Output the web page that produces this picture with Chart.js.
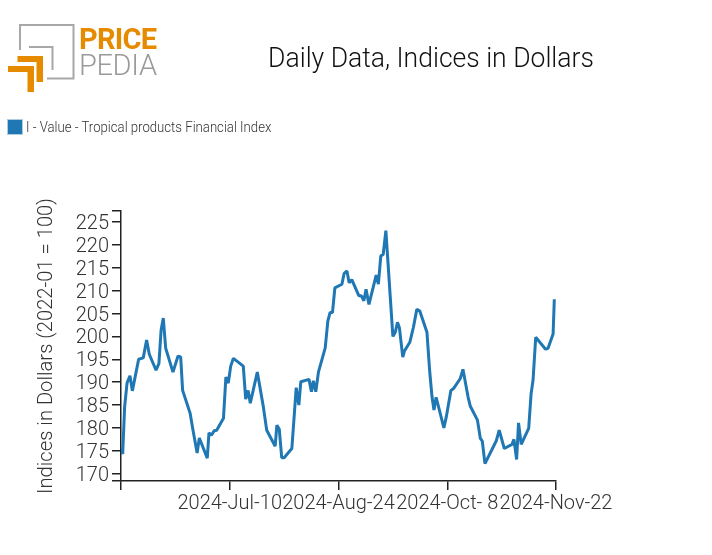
<!DOCTYPE html>
<html lang="en">
<head>
    <meta charset="UTF-8">
    <title>Daily Data, Indices in Dollars</title>
    <script src="https://cdn.jsdelivr.net/npm/chart.js"></script>
    <style>
        body {
            margin: 0;
            background: white;
            font-family: Roboto, sans-serif;
            font-weight: 300;
        }
        #wrap {
            position: relative;
            width: 712px;
            height: 555px;
        }
        #logo {
            position: absolute;
            left: 0;
            top: 0;
        }
        #title {
            position: absolute;
            left: 168px;
            width: 526px;
            top: 41px;
            text-align: center;
            font-size: 27px;
            line-height: 34px;
            color: #111;
            transform: scaleX(0.982);
        }
        #legendBox {
            position: absolute;
            left: 7px;
            top: 119px;
            width: 14px;
            height: 14px;
            background: #1f77b4;
            border: 1px solid #aecde3;
        }
        #legendText {
            position: absolute;
            left: 26px;
            top: 119px;
            font-size: 14px;
            line-height: 16px;
            color: #333;
            white-space: nowrap;
            transform-origin: left center;
            transform: scaleX(0.94);
        }
        canvas {
            position: absolute;
            left: 0;
            top: 0;
        }
    </style>
</head>
<body>
<div id="wrap">
    <canvas id="chart" width="712" height="555"></canvas>
    <svg id="logo" width="170" height="100">
        <path d="M20 50V25H73.500V78.500H47" fill="none" stroke="#a8a8a8" stroke-width="2"/>
        <path d="M29 47H52.500V70" fill="none" stroke="#a8a8a8" stroke-width="2"/>
        <path d="M8 66H34V92H27.500V72H8Z" fill="#e68a00"/>
        <path d="M17.500 56H43V82H36.500V62H17.500Z" fill="#e68a00"/>
        <text x="79" y="49" font-size="29" font-weight="700" fill="#e68a00" textLength="78">PRICE</text>
        <text x="79" y="75" font-size="29" font-weight="300" fill="#9a9a9a" textLength="78">PEDIA</text>
    </svg>
    <div id="title">Daily Data, Indices in Dollars</div>
    <div id="legendBox"></div>
    <div id="legendText">I - Value - Tropical products Financial Index</div>
</div>
<script>
    const seriesName = "I - Value - Tropical products Financial Index";

    // days since 2024-May-26
    const days = [0, 0.7, 1.5, 2.5, 3.7, 4.7, 7.3, 9.2, 10.6, 11.7, 14.5, 15.7, 16.6, 17.5, 18.5, 21.5, 23.6, 24.7, 25.5, 28.6,
        29.8, 31.5, 32.4, 35.7, 36.4, 37.4, 38.6, 39.6, 42.4, 43.4, 44.4, 45.4, 46.5, 50.6, 51.6, 52.6, 53.5, 56.4, 58.9, 60.3,
        63.8, 64.5, 65.5, 66.5, 67.5, 70.7, 72.5, 73.6, 74.4, 77.8, 78.8, 79.6, 80.6, 81.7, 84.5, 85.6, 86.5, 87.5, 88.5, 91.4,
        92.3, 93.5, 94.4, 95.5, 98.4, 99.4, 100.5, 101.4, 102.6, 105.6, 106.5, 107.5, 108.5, 109.6, 112.5, 113.5, 114.4, 115.2, 116.6, 117.3,
        119.5, 121, 122.4, 123.6, 126.6, 127.7, 128.7, 129.5, 130.4, 133.6, 134.6, 136.5, 137.6, 140.4, 141.5, 143.6, 144.5, 147.5, 148.7, 149.5,
        150.6, 155.3, 156.5, 158.6, 161.8, 162.6, 163.7, 164.5, 165.6, 168.7, 169.7, 170.5, 171.6, 175.7, 176.7, 178.8, 179.3];

    const values = [175.5, 174.3, 184.6, 189.8, 191.4, 188.1, 195.0, 195.3, 199.2, 196.1, 192.6, 194.1, 201.4, 204.0, 197.4, 192.2, 195.7, 195.5, 188.2, 183.2,
        179.5, 174.5, 177.8, 173.4, 178.9, 178.4, 179.4, 179.5, 182.1, 191.1, 189.8, 193.5, 195.2, 193.5, 186.3, 188.2, 185.4, 192.2, 184.6, 179.5,
        176.0, 180.6, 179.7, 173.5, 173.5, 175.5, 188.8, 185.0, 190.1, 190.6, 187.9, 190.3, 187.9, 192.2, 197.5, 203.4, 205.2, 205.2, 210.6, 211.4,
        213.7, 214.3, 211.7, 212.4, 208.9, 208.9, 207.8, 210.3, 207.0, 213.4, 211.4, 217.6, 217.9, 223.1, 200.0, 200.9, 203.1, 201.9, 195.5, 196.8,
        198.7, 202.0, 205.9, 205.6, 200.9, 192.6, 186.8, 183.9, 186.7, 180.0, 182.4, 188.2, 188.6, 190.8, 192.8, 186.8, 184.8, 181.7, 177.7, 177.1,
        172.2, 177.2, 179.5, 175.5, 176.4, 177.5, 173.1, 181.1, 176.4, 179.9, 187.5, 190.4, 199.8, 197.2, 197.4, 200.5, 208.1];

    const xTickDays = [0, 45, 90, 135, 180];
    const xTickLabels = ["", "2024-Jul-10", "2024-Aug-24", "2024-Oct- 8", "2024-Nov-22"];
    const yTicks = [170, 175, 180, 185, 190, 195, 200, 205, 210, 215, 220, 225];
    const yMin = 168.4;
    const yMax = 227.4;

    const axisFont = { family: "Roboto", size: 20, weight: "300" };

    new Chart(document.getElementById("chart"), {
        type: "line",
        data: {
            datasets: [{
                label: seriesName,
                data: days.map((d, i) => ({ x: d, y: values[i] })),
                borderColor: "#1f77b4",
                borderWidth: 3,
                borderJoinStyle: "bevel",
                pointRadius: 0,
                tension: 0,
                fill: false
            }]
        },
        options: {
            responsive: false,
            animation: false,
            layout: { padding: { left: 35, right: 156, top: 211, bottom: 0 } },
            plugins: { legend: { display: false }, title: { display: false }, tooltip: { enabled: false } },
            scales: {
                x: {
                    type: "linear",
                    min: 0,
                    max: 180,
                    afterBuildTicks: scale => { scale.ticks = xTickDays.map(v => ({ value: v })); },
                    afterFit: scale => { scale.height = 74; },
                    grid: { drawOnChartArea: false, color: "#222", lineWidth: 1.5, tickLength: 9 },
                    border: { color: "#222", width: 1.5 },
                    ticks: {
                        autoSkip: false,
                        maxRotation: 0,
                        color: "#333",
                        font: axisFont,
                        padding: 2,
                        callback: (v) => xTickLabels[xTickDays.indexOf(v)]
                    }
                },
                y: {
                    min: yMin,
                    max: yMax,
                    afterBuildTicks: scale => { scale.ticks = [yMin].concat(yTicks, [yMax]).map(v => ({ value: v })); },
                    afterFit: scale => { scale.width = 86; },
                    grid: { drawOnChartArea: false, color: "#222", lineWidth: 1.5, tickLength: 9 },
                    border: { color: "#222", width: 1.5 },
                    title: {
                        display: true,
                        text: "Indices in Dollars (2022-01 = 100)",
                        color: "#333",
                        font: { family: "Roboto", size: 20.2, weight: "300" },
                        padding: 0
                    },
                    ticks: {
                        autoSkip: false,
                        color: "#333",
                        // small line height with a blank first line drops the label about 2px
                        font: { family: "Roboto", size: 20, weight: "300", lineHeight: "4px" },
                        padding: 3,
                        callback: (v) => yTicks.includes(v) ? ["", String(v)] : ""
                    }
                }
            }
        }
    });
</script>
</body>
</html>
